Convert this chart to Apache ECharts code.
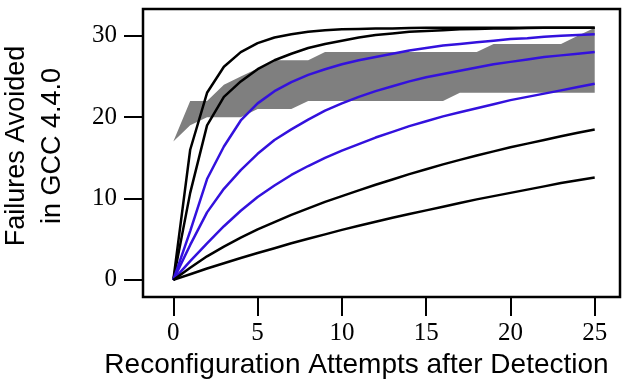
<!DOCTYPE html>
<html>
<head>
<meta charset="utf-8">
<script src="https://cdn.jsdelivr.net/npm/echarts@6/dist/echarts.min.js"></script>
<style>
  html, body { margin: 0; padding: 0; background: #fff; }
  #chart { width: 623px; height: 379px; }
</style>
</head>
<body>
<div id="chart"></div>
<script>
// attempts after detection (x) and the failures-avoided curves
const attempts = [0,1,2,3,4,5,6,7,8,9,10,11,12,13,14,15,16,17,18,19,20,21,22,23,24,25];
const xTicks = [0, 5, 10, 15, 20, 25];
const yTicks = [0, 10, 20, 30];

// gray band (observed range)
const bandLow  = [17,19,20,20,20,21,21,21,22,22,22,22,22,22,22,22,22,23,23,23,23,23,23,23,23,23];
const bandHigh = [17,22,22,24,25,26,27,27,27,28,28,28,28,28,28,28,28,28,28,29,29,29,29,29,30,31];

// model curves, fastest to slowest
const blackFast = [0,16,23,26.2,28,29.1,29.8,30.2,30.5,30.7,30.8,30.85,30.9,30.9,30.95,31,31,31,31,31,31,31,31,31,31,31];
const blackNext = [0,10.7,19,22.5,24.4,25.9,27,27.8,28.5,29,29.4,29.8,30.1,30.3,30.5,30.6,30.7,30.8,30.85,30.9,30.9,30.95,31,31,31,31];
const blue1 = [0,6,12.4,16.4,19.6,21.7,23.2,24.3,25.2,25.9,26.5,27,27.4,27.8,28.2,28.5,28.8,29,29.2,29.4,29.6,29.7,29.9,30,30.1,30.2];
const blue2 = [0,4.3,8.3,11.2,13.5,15.5,17.2,18.5,19.7,20.8,21.7,22.5,23.2,23.8,24.4,24.9,25.3,25.7,26.1,26.5,26.8,27.1,27.4,27.6,27.8,28];
const blue3 = [0,2.3,4.5,6.6,8.5,10.2,11.6,12.9,14,15,15.9,16.7,17.5,18.2,18.9,19.5,20.1,20.6,21.1,21.6,22.1,22.5,22.9,23.3,23.7,24.1];
const blackSlow = [0,1.5,2.9,4.1,5.2,6.2,7.1,8,8.8,9.6,10.3,11,11.7,12.35,13,13.6,14.2,14.75,15.3,15.8,16.3,16.75,17.2,17.65,18.1,18.5];
const blackSlowest = [0,0.7,1.4,2.05,2.7,3.3,3.9,4.5,5.05,5.6,6.15,6.65,7.15,7.65,8.1,8.55,9,9.45,9.9,10.3,10.7,11.1,11.5,11.9,12.25,12.6];

const pairs = ys => ys.map((y, i) => [attempts[i], y]);

const curve = (ys, color) => ({
  type: 'line',
  data: pairs(ys),
  symbol: 'none',
  silent: true,
  z: 3,
  lineStyle: { color: color, width: 2.5 },
});

// band polygon: upper edge left to right, then lower edge back
function renderBand(params, api) {
  if (params.dataIndex !== 0) return null;
  const upper = attempts.map((x, i) => api.coord([x, bandHigh[i]]));
  const lower = attempts.map((x, i) => api.coord([x, bandLow[i]])).reverse();
  return {
    type: 'polygon',
    shape: { points: upper.concat(lower) },
    style: { fill: '#7f7f7f' },
  };
}

const chart = echarts.init(document.getElementById('chart'));

chart.setOption({
  animation: false,
  grid: {
    left: 143, right: 3, top: 9, bottom: 82,
    outerBoundsMode: 'none',
    containLabel: false,
    show: true, borderColor: '#000', borderWidth: 2.5, backgroundColor: 'transparent',
  },
  xAxis: {
    type: 'value',
    min: -1.8,
    max: 26.5,
    name: 'Reconfiguration Attempts after Detection',
    nameLocation: 'middle',
    nameGap: 52,
    nameTextStyle: { fontFamily: 'Liberation Sans', fontSize: 28, color: '#000', padding: [0, 50, 0, 0] },
    axisLine: { show: false, onZero: false },
    splitLine: { show: false },
    axisTick: { customValues: xTicks, length: 19, lineStyle: { color: '#000', width: 2 } },
    axisLabel: { customValues: xTicks, margin: 24, fontFamily: 'Liberation Serif', fontSize: 25, color: '#000' },
  },
  yAxis: {
    type: 'value',
    min: -2.1,
    max: 33.3,
    name: 'Failures Avoided\nin GCC 4.4.0',
    nameLocation: 'middle',
    nameRotate: 90,
    nameGap: 72,
    nameTextStyle: { fontFamily: 'Liberation Sans', fontSize: 27, lineHeight: 36, color: '#000', padding: [0, 0, 0, 14] },
    axisLine: { show: false, onZero: false },
    splitLine: { show: false },
    axisTick: { customValues: yTicks, length: 19, lineStyle: { color: '#000', width: 2 } },
    axisLabel: { customValues: yTicks, margin: 26, fontFamily: 'Liberation Serif', fontSize: 25, color: '#000' },
  },
  series: [
    {
      type: 'custom',
      renderItem: renderBand,
      data: [[attempts[0], bandLow[0]]],
      silent: true,
      z: 1,
    },
    curve(blackFast, '#000'),
    curve(blackNext, '#000'),
    curve(blue1, '#3311dd'),
    curve(blue2, '#3311dd'),
    curve(blue3, '#3311dd'),
    curve(blackSlow, '#000'),
    curve(blackSlowest, '#000'),
  ],
});
</script>
</body>
</html>
